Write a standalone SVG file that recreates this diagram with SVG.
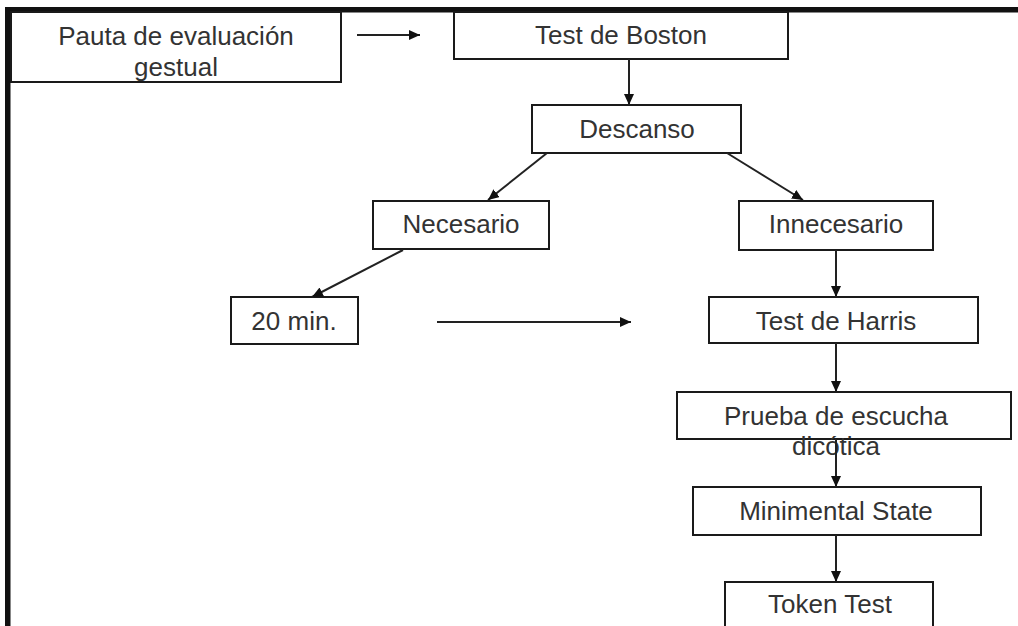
<svg xmlns="http://www.w3.org/2000/svg" width="1018" height="626" viewBox="0 0 1018 626">
  <style>
    .box { fill: #ffffff; stroke: #1a1a1a; stroke-width: 2; }
    .lbl { font-family: "Liberation Sans", Arial, sans-serif; font-size: 26px; fill: #333333; text-anchor: middle; }
    .edge { stroke: #222222; stroke-width: 2; fill: none; marker-end: url(#arr); }
  </style>
  <defs>
    <marker id="arr" markerUnits="userSpaceOnUse" markerWidth="12" markerHeight="10" refX="11" refY="5" orient="auto">
      <path d="M0,0 L11,5 L0,10 Z" fill="#111111"/>
    </marker>
  </defs>
  <rect x="0" y="0" width="1018" height="626" fill="#ffffff"/>

  <g id="frame">
    <rect x="5" y="7" width="1013" height="5.5" fill="#111111"/>
    <rect x="5" y="7" width="5.5" height="619" fill="#111111"/>
  </g>

  <g id="pauta">
    <rect class="box" x="11" y="12" width="330" height="70"/>
    <text class="lbl" x="176" y="45">Pauta de evaluación</text>
    <text class="lbl" x="176" y="76">gestual</text>
  </g>
  <g id="boston">
    <rect class="box" x="454" y="12" width="334" height="47"/>
    <text class="lbl" x="621" y="44">Test de Boston</text>
  </g>
  <g id="descanso">
    <rect class="box" x="532" y="105" width="209" height="48"/>
    <text class="lbl" x="637" y="138">Descanso</text>
  </g>
  <g id="necesario">
    <rect class="box" x="373" y="201" width="176" height="48"/>
    <text class="lbl" x="461" y="233">Necesario</text>
  </g>
  <g id="innecesario">
    <rect class="box" x="739" y="201" width="194" height="49"/>
    <text class="lbl" x="836" y="233">Innecesario</text>
  </g>
  <g id="min20">
    <rect class="box" x="231" y="297" width="127" height="47"/>
    <text class="lbl" x="294" y="330">20 min.</text>
  </g>
  <g id="harris">
    <rect class="box" x="709" y="297" width="269" height="46"/>
    <text class="lbl" x="836" y="330">Test de Harris</text>
  </g>
  <g id="prueba">
    <rect class="box" x="677" y="392" width="334" height="47"/>
    <text class="lbl" x="836" y="425">Prueba de escucha</text>
    <text class="lbl" x="836" y="455">dicótica</text>
  </g>
  <g id="minimental">
    <rect class="box" x="693" y="487" width="288" height="48"/>
    <text class="lbl" x="836" y="520">Minimental State</text>
  </g>
  <g id="token">
    <rect class="box" x="725" y="582" width="208" height="60"/>
    <text class="lbl" x="830" y="613">Token Test</text>
  </g>

  <g id="connectors">
    <line class="edge" x1="357" y1="35" x2="420" y2="35"/>
    <line class="edge" x1="629" y1="59" x2="629" y2="105"/>
    <line class="edge" x1="547" y1="153" x2="488" y2="200"/>
    <line class="edge" x1="727" y1="153" x2="803" y2="200"/>
    <line class="edge" x1="403" y1="250" x2="312" y2="297"/>
    <line class="edge" x1="437" y1="322" x2="631" y2="322"/>
    <line class="edge" x1="836" y1="250" x2="836" y2="297"/>
    <line class="edge" x1="836" y1="343" x2="836" y2="392"/>
    <line class="edge" x1="836" y1="439" x2="836" y2="487"/>
    <line class="edge" x1="836" y1="535" x2="836" y2="582"/>
  </g>
</svg>
